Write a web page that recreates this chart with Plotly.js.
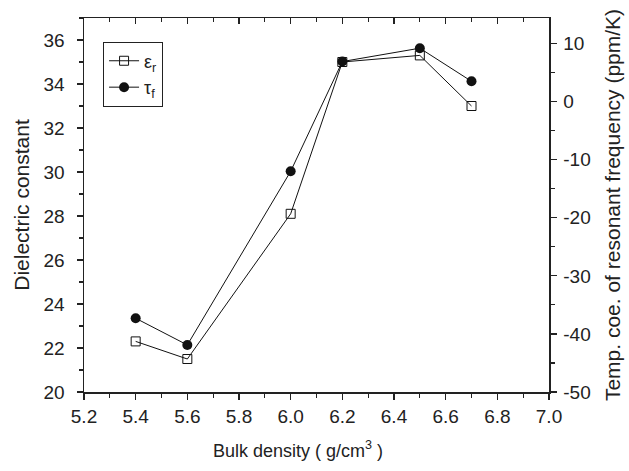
<!DOCTYPE html>
<html>
<head>
<meta charset="utf-8">
<script src="https://cdn.plot.ly/plotly-3.0.1.min.js"></script>
<style>html,body{margin:0;padding:0;background:#fff;}#chart{width:629px;height:471px;}</style>
</head>
<body>
<div id="chart"></div>
<script>
// Data
const density = [5.4, 5.6, 6.0, 6.2, 6.5, 6.7];
const dielectric = [22.3, 21.5, 28.1, 35.0, 35.3, 33.0];
const tauF = [-37.3, -41.9, -12.0, 6.9, 9.2, 3.5];
const legendNames = ["ε<sub>r</sub>", "τ<sub>f</sub>"];
const rightTickVals = [-50, -40, -30, -20, -10, 0, 10];
const rightTickText = ["-50", "-40", "-30", "-20", "-10", "0", "10"];
const xTitle = "Bulk density ( g/cm<sup>3</sup> )";

const FONT = "Liberation Sans, Arial, Helvetica, sans-serif";
const INK = "#111";

const traces = [
  {
    x: density, y: dielectric, name: legendNames[0],
    type: "scatter", mode: "lines+markers",
    line: {color: INK, width: 1},
    marker: {symbol: "square-open", size: 9, color: INK, line: {width: 1, color: INK}},
    xaxis: "x", yaxis: "y"
  },
  {
    x: density, y: tauF, name: legendNames[1],
    type: "scatter", mode: "lines+markers",
    line: {color: INK, width: 1},
    marker: {symbol: "circle", size: 10, color: INK},
    xaxis: "x", yaxis: "y2"
  },
  {
    x: [], y: [], xaxis: "x2", yaxis: "y", showlegend: false, hoverinfo: "skip"
  }
];

const tickFont = {family: FONT, size: 19, color: "#222"};
const xTitleFont = {family: FONT, size: 18, color: "#222"};
const yTitleFont = {family: FONT, size: 21, color: "#222"};

const layout = {
  width: 629, height: 471,
  margin: {l: 84, r: 80, t: 18, b: 79},
  paper_bgcolor: "#fff", plot_bgcolor: "#fff",
  font: {family: FONT, color: "#222"},
  showlegend: true,
  legend: {
    x: 0.041, y: 0.937, xanchor: "left", yanchor: "top",
    bordercolor: "#222", borderwidth: 1, bgcolor: "#fff",
    font: {family: FONT, size: 18, color: "#222"},
    itemwidth: 30, tracegroupgap: 0
  },
  annotations: [
    {
      text: xTitle, xref: "paper", yref: "paper",
      x: 0.461, y: -0.155, xanchor: "center", yanchor: "middle",
      showarrow: false, font: xTitleFont
    }
  ],
  xaxis: {
    range: [5.2, 7.0], dtick: 0.2, tick0: 5.2, tickformat: ".1f",
    showgrid: false, zeroline: false,
    showline: true, linecolor: "#222", linewidth: 1.5,
    ticks: "outside", ticklen: 6, tickwidth: 1.2, tickcolor: "#222",
    minor: {dtick: 0.1, ticks: "outside", ticklen: 4, tickcolor: "#222", tickwidth: 1.2},
    tickfont: tickFont, ticklabelstandoff: 1
  },
  xaxis2: {
    overlaying: "x", side: "top", matches: "x", range: [5.2, 7.0],
    dtick: 0.2, tick0: 5.2,
    showgrid: false, zeroline: false, showticklabels: false,
    showline: true, linecolor: "#222", linewidth: 1.5,
    ticks: "inside", ticklen: 6, tickwidth: 1.2, tickcolor: "#222",
    minor: {dtick: 0.1, ticks: "inside", ticklen: 4, tickcolor: "#222", tickwidth: 1.2}
  },
  yaxis: {
    range: [20, 37], dtick: 2, tick0: 20,
    showgrid: false, zeroline: false,
    showline: true, linecolor: "#222", linewidth: 1.5,
    ticks: "outside", ticklen: 6, tickwidth: 1.2, tickcolor: "#222",
    minor: {dtick: 1, ticks: "outside", ticklen: 4, tickcolor: "#222", tickwidth: 1.2},
    tickfont: tickFont, ticklabelstandoff: 8,
    title: {text: "Dielectric constant", font: yTitleFont, standoff: 8}
  },
  yaxis2: {
    overlaying: "y", side: "right", range: [-50, 14.4],
    tickmode: "array", tickvals: rightTickVals, ticktext: rightTickText,
    showgrid: false, zeroline: false,
    showline: true, linecolor: "#222", linewidth: 1.5,
    ticks: "outside", ticklen: 6, tickwidth: 1.2, tickcolor: "#222",
    minor: {dtick: 5, tick0: -50, ticks: "outside", ticklen: 4, tickcolor: "#222", tickwidth: 1.2},
    tickfont: tickFont, ticklabelstandoff: 3,
    title: {text: "Temp. coe. of resonant frequency (ppm/K)", font: yTitleFont, standoff: 15}
  }
};

Plotly.newPlot("chart", traces, layout, {displayModeBar: false, staticPlot: true});
</script>
</body>
</html>
